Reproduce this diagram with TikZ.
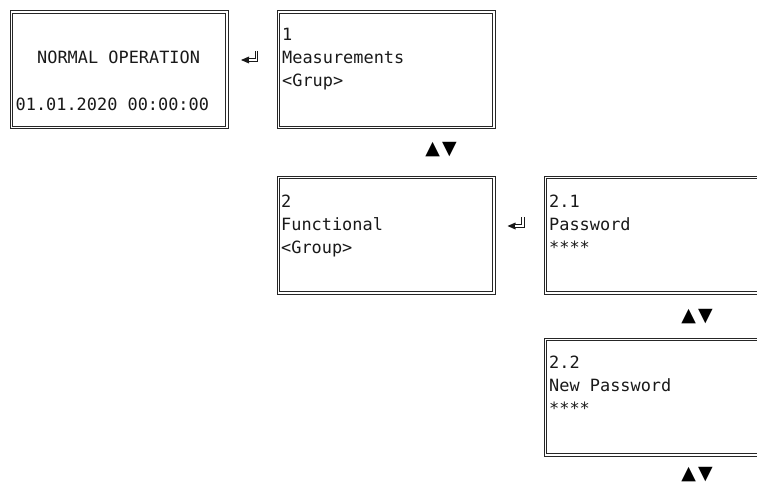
\documentclass[tikz,border=0pt]{standalone}
\usepackage{fontspec}
\setmonofont{DejaVu Sans Mono}
\newfontfamily\symfont{DejaVu Sans}
\tikzset{
  screen/.style={draw=black!85, double=white, line width=1pt, double distance=1.4pt,
    inner sep=0pt, minimum width=215.6pt, minimum height=115.6pt, anchor=north west},
  lcd/.style={font=\ttfamily\fontsize{16.9}{20}\selectfont, inner sep=0pt, anchor=base west, text=black!90},
  updown/.style={font=\symfont\fontsize{19}{19}\selectfont, inner sep=0pt, text=black},
  retsym/.pic={
    \fill[black!90] (-9,4) -- (-1,0.5) -- (-1,7.5) -- cycle;
    \draw[black!90, line width=1pt, double=white, double distance=1.4pt] (6.3,-5) -- (6.3,4) -- (-1.5,4);
  }
}
\begin{document}
\begin{tikzpicture}[x=1pt,y=-1pt]
\useasboundingbox (0,0) rectangle (757,484);
\clip (0,0) rectangle (757,484);
% screens
\node[screen] (scrA) at (10.7,11.7) {};
\node[screen] (scrB) at (277.7,11.7) {};
\node[screen] (scrC) at (277.7,176.7) {};
\node[screen] (scrD) at (544.7,176.7) {};
\node[screen] (scrE) at (544.7,338.7) {};
% texts
\node[lcd, anchor=base] (a1) at (118.6,64) {NORMAL OPERATION};
\node[lcd] (a2) at (15.5,111) {01.01.2020 00:00:00};
\node[lcd] (b1) at (282,41) {1};
\node[lcd] (b2) at (282,64) {Measurements};
\node[lcd] (b3) at (282,87) {<Grup>};
\node[lcd] (c1) at (281,207) {2};
\node[lcd] (c2) at (281,230) {Functional};
\node[lcd] (c3) at (281,253) {<Group>};
\node[lcd] (d1) at (549,207) {2.1};
\node[lcd] (d2) at (549,230) {Password};
\node[lcd] (d3) at (549,253) {****};
\node[lcd] (e1) at (549,368) {2.2};
\node[lcd] (e2) at (549,391) {New Password};
\node[lcd] (e3) at (549,414) {****};
% enter symbols
\pic (r1) at (250,56) {retsym};
\pic (r2) at (516.5,222) {retsym};
% up/down symbols
\node[updown] (ud1) at (441,149.5) {▲\kern2pt▼};
\node[updown] (ud2) at (697,317) {▲\kern2pt▼};
\node[updown] (ud3) at (697,475) {▲\kern2pt▼};
\end{tikzpicture}
\end{document}
